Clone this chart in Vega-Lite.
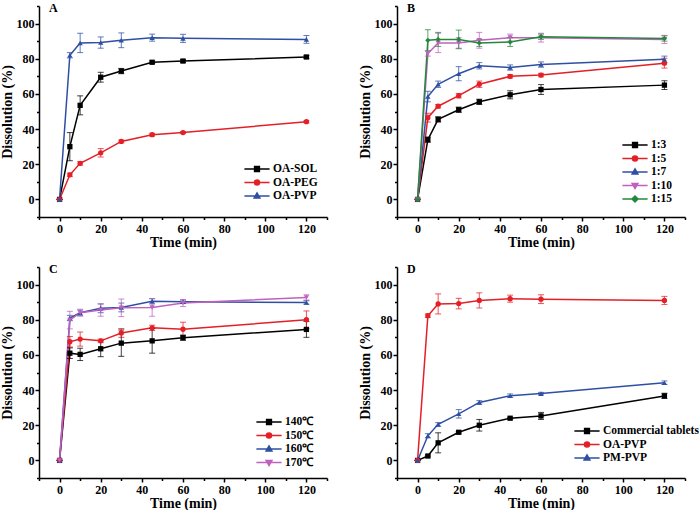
{
"$schema": "https://vega.github.io/schema/vega-lite/v6.json",
"padding": {"left": 0, "top": 2, "right": 3, "bottom": 0},
"bounds": "flush",
"columns": 2,
"spacing": {"row": 50, "column": 70},
"resolve": {"scale": {"color": "independent", "shape": "independent", "fill": "independent", "stroke": "independent"}, "legend": {"color": "independent", "shape": "independent", "fill": "independent", "stroke": "independent"}},
"datasets": {
"A": [
{"s":"OA-SOL","t":0,"v":0,"e":0},{"s":"OA-SOL","t":5,"v":30,"e":8},{"s":"OA-SOL","t":10,"v":53.5,"e":5.4},{"s":"OA-SOL","t":20,"v":69.5,"e":2.8},{"s":"OA-SOL","t":30,"v":73,"e":1.5},{"s":"OA-SOL","t":45,"v":78,"e":0.7},{"s":"OA-SOL","t":60,"v":78.7,"e":0.8},{"s":"OA-SOL","t":120,"v":81,"e":0.8},
{"s":"OA-PEG","t":0,"v":0,"e":0},{"s":"OA-PEG","t":5,"v":14,"e":1},{"s":"OA-PEG","t":10,"v":20.5,"e":1},{"s":"OA-PEG","t":20,"v":26.5,"e":2.4},{"s":"OA-PEG","t":30,"v":33,"e":0.8},{"s":"OA-PEG","t":45,"v":36.8,"e":0.8},{"s":"OA-PEG","t":60,"v":38,"e":0.5},{"s":"OA-PEG","t":120,"v":44.2,"e":0.6},
{"s":"OA-PVP","t":0,"v":0,"e":0},{"s":"OA-PVP","t":5,"v":82,"e":1.5},{"s":"OA-PVP","t":10,"v":89,"e":5.5},{"s":"OA-PVP","t":20,"v":89.2,"e":3.2},{"s":"OA-PVP","t":30,"v":90.5,"e":4.2},{"s":"OA-PVP","t":45,"v":92,"e":2},{"s":"OA-PVP","t":60,"v":91.6,"e":2.3},{"s":"OA-PVP","t":120,"v":91,"e":2.2}
],
"B": [
{"s":"1:3","t":0,"v":0,"e":0},{"s":"1:3","t":5,"v":34,"e":1.5},{"s":"1:3","t":10,"v":45.5,"e":1.5},{"s":"1:3","t":20,"v":51,"e":1.5},{"s":"1:3","t":30,"v":55.5,"e":1.5},{"s":"1:3","t":45,"v":59.5,"e":2.3},{"s":"1:3","t":60,"v":62.5,"e":2.8},{"s":"1:3","t":120,"v":65,"e":2.5},
{"s":"1:5","t":0,"v":0,"e":0},{"s":"1:5","t":5,"v":46.5,"e":2.5},{"s":"1:5","t":10,"v":53,"e":1},{"s":"1:5","t":20,"v":59,"e":1.3},{"s":"1:5","t":30,"v":65.5,"e":1.8},{"s":"1:5","t":45,"v":70,"e":1},{"s":"1:5","t":60,"v":70.7,"e":1},{"s":"1:5","t":120,"v":77.5,"e":2.8},
{"s":"1:7","t":0,"v":0,"e":0},{"s":"1:7","t":5,"v":58.5,"e":3},{"s":"1:7","t":10,"v":65.5,"e":1.8},{"s":"1:7","t":20,"v":71.5,"e":4},{"s":"1:7","t":30,"v":76,"e":1.8},{"s":"1:7","t":45,"v":75,"e":1.5},{"s":"1:7","t":60,"v":76.7,"e":1.5},{"s":"1:7","t":120,"v":79.7,"e":1.8},
{"s":"1:10","t":0,"v":0,"e":0},{"s":"1:10","t":5,"v":83,"e":1.5},{"s":"1:10","t":10,"v":89,"e":5.5},{"s":"1:10","t":20,"v":89,"e":3},{"s":"1:10","t":30,"v":90.5,"e":4.5},{"s":"1:10","t":45,"v":92,"e":2},{"s":"1:10","t":60,"v":92,"e":2.5},{"s":"1:10","t":120,"v":91,"e":2.3},
{"s":"1:15","t":0,"v":0,"e":0},{"s":"1:15","t":5,"v":90.5,"e":6},{"s":"1:15","t":10,"v":91,"e":4},{"s":"1:15","t":20,"v":91,"e":5.3},{"s":"1:15","t":30,"v":89,"e":2},{"s":"1:15","t":45,"v":89.5,"e":2.5},{"s":"1:15","t":60,"v":92.5,"e":1.5},{"s":"1:15","t":120,"v":91.5,"e":1.5}
],
"C": [
{"s":"140℃","t":0,"v":0,"e":0},{"s":"140℃","t":5,"v":61,"e":3},{"s":"140℃","t":10,"v":60.3,"e":3.5},{"s":"140℃","t":20,"v":63.5,"e":4.5},{"s":"140℃","t":30,"v":66.7,"e":7.5},{"s":"140℃","t":45,"v":68,"e":7},{"s":"140℃","t":60,"v":69.8,"e":1.5},{"s":"140℃","t":120,"v":74.5,"e":4.5},
{"s":"150℃","t":0,"v":0,"e":0},{"s":"150℃","t":5,"v":67.5,"e":3},{"s":"150℃","t":10,"v":69,"e":4},{"s":"150℃","t":20,"v":68,"e":1},{"s":"150℃","t":30,"v":72.5,"e":2.5},{"s":"150℃","t":45,"v":75.4,"e":1.5},{"s":"150℃","t":60,"v":74.6,"e":4},{"s":"150℃","t":120,"v":80,"e":5},
{"s":"160℃","t":0,"v":0,"e":0},{"s":"160℃","t":5,"v":81,"e":1.5},{"s":"160℃","t":10,"v":84,"e":1.5},{"s":"160℃","t":20,"v":86.5,"e":2.5},{"s":"160℃","t":30,"v":87,"e":2.5},{"s":"160℃","t":45,"v":90.5,"e":1.5},{"s":"160℃","t":60,"v":90.2,"e":1},{"s":"160℃","t":120,"v":89.8,"e":1},
{"s":"170℃","t":0,"v":0,"e":0},{"s":"170℃","t":5,"v":79.8,"e":5},{"s":"170℃","t":10,"v":84,"e":2},{"s":"170℃","t":20,"v":85.5,"e":3.5},{"s":"170℃","t":30,"v":86.8,"e":5},{"s":"170℃","t":45,"v":87,"e":5},{"s":"170℃","t":60,"v":89.5,"e":2},{"s":"170℃","t":120,"v":92.7,"e":1.5}
],
"D": [
{"s":"Commercial tablets","t":0,"v":0,"e":0},{"s":"Commercial tablets","t":5,"v":2.5,"e":0.5},{"s":"Commercial tablets","t":10,"v":10,"e":5.7},{"s":"Commercial tablets","t":20,"v":16,"e":0.5},{"s":"Commercial tablets","t":30,"v":20,"e":3.3},{"s":"Commercial tablets","t":45,"v":24,"e":0.5},{"s":"Commercial tablets","t":60,"v":25.3,"e":2},{"s":"Commercial tablets","t":120,"v":36.7,"e":1.5},
{"s":"OA-PVP","t":0,"v":0,"e":0},{"s":"OA-PVP","t":5,"v":82.3,"e":1},{"s":"OA-PVP","t":10,"v":89,"e":5.7},{"s":"OA-PVP","t":20,"v":89.2,"e":3},{"s":"OA-PVP","t":30,"v":91,"e":4.3},{"s":"OA-PVP","t":45,"v":92,"e":2},{"s":"OA-PVP","t":60,"v":91.7,"e":2.5},{"s":"OA-PVP","t":120,"v":91,"e":2.3},
{"s":"PM-PVP","t":0,"v":0,"e":0},{"s":"PM-PVP","t":5,"v":14,"e":1.2},{"s":"PM-PVP","t":10,"v":20.5,"e":1},{"s":"PM-PVP","t":20,"v":26.5,"e":2.4},{"s":"PM-PVP","t":30,"v":33,"e":1},{"s":"PM-PVP","t":45,"v":36.8,"e":1},{"s":"PM-PVP","t":60,"v":38,"e":0.7},{"s":"PM-PVP","t":120,"v":44.2,"e":1}
]
},
"concat": [
{
"width": 288, "height": 211,
"title": {"text": "A", "anchor": "start", "frame": "group", "offset": -10, "dx": 10, "fontSize": 12, "font": "Liberation Serif", "fontWeight": "bold", "color": "#000"},
"data": {"name": "A"},
"layer": [
{"mark": {"type": "line", "strokeWidth": 1.5},
 "encoding": {
  "x": {"field": "t", "type": "quantitative", "scale": {"domain": [-10, 130], "nice": false, "zero": false}, "axis": {"orient": "bottom", "values": [0,20,40,60,80,100,120], "title": "Time (min)", "tickSize": 4, "labelPadding": 2, "titlePadding": 1}},
  "y": {"field": "v", "type": "quantitative", "scale": {"domain": [-10, 110], "nice": false, "zero": false}, "axis": {"orient": "left", "values": [0,20,40,60,80,100], "title": "Dissolution (%)", "tickSize": 4, "labelPadding": 1, "titlePadding": 2}},
  "color": {"field": "s", "type": "nominal", "scale": {"domain": ["OA-SOL","OA-PEG","OA-PVP"], "range": ["#000000","#e41f26","#2e4fa3"]}, "legend": null}}},
{"mark": {"type": "errorbar", "ticks": true, "size": 6, "thickness": 1, "opacity": 0.75},
 "encoding": {
  "x": {"field": "t", "type": "quantitative", "axis": null},
  "y": {"field": "v", "type": "quantitative", "axis": null},
  "yError": {"field": "e"},
  "color": {"field": "s", "type": "nominal", "scale": {"domain": ["OA-SOL","OA-PEG","OA-PVP"], "range": ["#000000","#e41f26","#2e4fa3"]}, "legend": null}}},
{"mark": {"type": "point", "filled": true, "size": 28, "opacity": 1},
 "encoding": {
  "x": {"field": "t", "type": "quantitative", "axis": null},
  "y": {"field": "v", "type": "quantitative", "axis": null},
  "color": {"field": "s", "type": "nominal", "scale": {"domain": ["OA-SOL","OA-PEG","OA-PVP"], "range": ["#000000","#e41f26","#2e4fa3"]}, "legend": null},
  "shape": {"field": "s", "type": "nominal", "scale": {"domain": ["OA-SOL","OA-PEG","OA-PVP"], "range": ["square","circle","triangle-up"]}, "legend": null}}},
{"transform": [{"filter": "datum.t > 1000"}],
 "mark": {"type": "point", "strokeWidth": 1.5, "opacity": 1},
 "encoding": {
  "x": {"field": "t", "type": "quantitative", "axis": {"orient": "bottom", "values": [-10,10,30,50,70,90,110,130], "labels": false, "domain": false, "title": null, "tickSize": 2.5}},
  "y": {"field": "v", "type": "quantitative", "axis": {"orient": "left", "values": [-10,10,30,50,70,90,110], "labels": false, "domain": false, "title": null, "tickSize": 2.5}},
  "fill": {"field": "s", "type": "nominal", "scale": {"domain": ["OA-SOL","OA-PEG","OA-PVP"], "range": ["#000000","#e41f26","#2e4fa3"]}, "legend": {"title": null, "orient": "none", "legendX": 211, "legendY": 156}},
  "stroke": {"field": "s", "type": "nominal", "scale": {"domain": ["OA-SOL","OA-PEG","OA-PVP"], "range": ["#000000","#e41f26","#2e4fa3"]}, "legend": {"title": null, "orient": "none", "legendX": 211, "legendY": 156}},
  "shape": {"field": "s", "type": "nominal", "scale": {"domain": ["OA-SOL","OA-PEG","OA-PVP"], "range": ["M-2.1,0H2.1M-0.4,-0.4H0.4V0.4H-0.4Z","M-2.1,0H2.1M0.42,0A0.42,0.42 0 1,1 -0.42,0A0.42,0.42 0 1,1 0.42,0Z","M-2.1,0H2.1M0,-0.5L0.48,0.33H-0.48Z"]}, "legend": {"title": null, "orient": "none", "legendX": 211, "legendY": 156}}}}
],
"resolve": {"scale": {"shape": "independent", "fill": "independent", "stroke": "independent"}, "axis": {"x": "independent", "y": "independent"}}
},
{
"width": 288, "height": 211,
"title": {"text": "B", "anchor": "start", "frame": "group", "offset": -10, "dx": 10, "fontSize": 12, "font": "Liberation Serif", "fontWeight": "bold", "color": "#000"},
"data": {"name": "B"},
"layer": [
{"mark": {"type": "line", "strokeWidth": 1.5},
 "encoding": {
  "x": {"field": "t", "type": "quantitative", "scale": {"domain": [-10, 130], "nice": false, "zero": false}, "axis": {"orient": "bottom", "values": [0,20,40,60,80,100,120], "title": "Time (min)", "tickSize": 4, "labelPadding": 2, "titlePadding": 1}},
  "y": {"field": "v", "type": "quantitative", "scale": {"domain": [-10, 110], "nice": false, "zero": false}, "axis": {"orient": "left", "values": [0,20,40,60,80,100], "title": "Dissolution (%)", "tickSize": 4, "labelPadding": 1, "titlePadding": 2}},
  "color": {"field": "s", "type": "nominal", "scale": {"domain": ["1:3","1:5","1:7","1:10","1:15"], "range": ["#000000","#e41f26","#2e4fa3","#c060c0","#23893a"]}, "legend": null}}},
{"mark": {"type": "errorbar", "ticks": true, "size": 6, "thickness": 1, "opacity": 0.75},
 "encoding": {
  "x": {"field": "t", "type": "quantitative", "axis": null},
  "y": {"field": "v", "type": "quantitative", "axis": null},
  "yError": {"field": "e"},
  "color": {"field": "s", "type": "nominal", "scale": {"domain": ["1:3","1:5","1:7","1:10","1:15"], "range": ["#000000","#e41f26","#2e4fa3","#c060c0","#23893a"]}, "legend": null}}},
{"mark": {"type": "point", "filled": true, "size": 28, "opacity": 1},
 "encoding": {
  "x": {"field": "t", "type": "quantitative", "axis": null},
  "y": {"field": "v", "type": "quantitative", "axis": null},
  "color": {"field": "s", "type": "nominal", "scale": {"domain": ["1:3","1:5","1:7","1:10","1:15"], "range": ["#000000","#e41f26","#2e4fa3","#c060c0","#23893a"]}, "legend": null},
  "shape": {"field": "s", "type": "nominal", "scale": {"domain": ["1:3","1:5","1:7","1:10","1:15"], "range": ["square","circle","triangle-up","triangle-down","diamond"]}, "legend": null}}},
{"transform": [{"filter": "datum.t > 1000"}],
 "mark": {"type": "point", "strokeWidth": 1.5, "opacity": 1},
 "encoding": {
  "x": {"field": "t", "type": "quantitative", "axis": {"orient": "bottom", "values": [-10,10,30,50,70,90,110,130], "labels": false, "domain": false, "title": null, "tickSize": 2.5}},
  "y": {"field": "v", "type": "quantitative", "axis": {"orient": "left", "values": [-10,10,30,50,70,90,110], "labels": false, "domain": false, "title": null, "tickSize": 2.5}},
  "fill": {"field": "s", "type": "nominal", "scale": {"domain": ["1:3","1:5","1:7","1:10","1:15"], "range": ["#000000","#e41f26","#2e4fa3","#c060c0","#23893a"]}, "legend": {"title": null, "orient": "none", "legendX": 231, "legendY": 132}},
  "stroke": {"field": "s", "type": "nominal", "scale": {"domain": ["1:3","1:5","1:7","1:10","1:15"], "range": ["#000000","#e41f26","#2e4fa3","#c060c0","#23893a"]}, "legend": {"title": null, "orient": "none", "legendX": 231, "legendY": 132}},
  "shape": {"field": "s", "type": "nominal", "scale": {"domain": ["1:3","1:5","1:7","1:10","1:15"], "range": ["M-2.1,0H2.1M-0.4,-0.4H0.4V0.4H-0.4Z","M-2.1,0H2.1M0.42,0A0.42,0.42 0 1,1 -0.42,0A0.42,0.42 0 1,1 0.42,0Z","M-2.1,0H2.1M0,-0.5L0.48,0.33H-0.48Z","M-2.1,0H2.1M0,0.5L0.48,-0.33H-0.48Z","M-2.1,0H2.1M0,-0.5L0.5,0L0,0.5L-0.5,0Z"]}, "legend": {"title": null, "orient": "none", "legendX": 231, "legendY": 132}}}}
],
"resolve": {"scale": {"shape": "independent", "fill": "independent", "stroke": "independent"}, "axis": {"x": "independent", "y": "independent"}}
},
{
"width": 288, "height": 211,
"title": {"text": "C", "anchor": "start", "frame": "group", "offset": -10, "dx": 10, "fontSize": 12, "font": "Liberation Serif", "fontWeight": "bold", "color": "#000"},
"data": {"name": "C"},
"layer": [
{"mark": {"type": "line", "strokeWidth": 1.5},
 "encoding": {
  "x": {"field": "t", "type": "quantitative", "scale": {"domain": [-10, 130], "nice": false, "zero": false}, "axis": {"orient": "bottom", "values": [0,20,40,60,80,100,120], "title": "Time (min)", "tickSize": 4, "labelPadding": 2, "titlePadding": 1}},
  "y": {"field": "v", "type": "quantitative", "scale": {"domain": [-10, 110], "nice": false, "zero": false}, "axis": {"orient": "left", "values": [0,20,40,60,80,100], "title": "Dissolution (%)", "tickSize": 4, "labelPadding": 1, "titlePadding": 2}},
  "color": {"field": "s", "type": "nominal", "scale": {"domain": ["140℃","150℃","160℃","170℃"], "range": ["#000000","#e41f26","#2e4fa3","#c060c0"]}, "legend": null}}},
{"mark": {"type": "errorbar", "ticks": true, "size": 6, "thickness": 1, "opacity": 0.75},
 "encoding": {
  "x": {"field": "t", "type": "quantitative", "axis": null},
  "y": {"field": "v", "type": "quantitative", "axis": null},
  "yError": {"field": "e"},
  "color": {"field": "s", "type": "nominal", "scale": {"domain": ["140℃","150℃","160℃","170℃"], "range": ["#000000","#e41f26","#2e4fa3","#c060c0"]}, "legend": null}}},
{"mark": {"type": "point", "filled": true, "size": 28, "opacity": 1},
 "encoding": {
  "x": {"field": "t", "type": "quantitative", "axis": null},
  "y": {"field": "v", "type": "quantitative", "axis": null},
  "color": {"field": "s", "type": "nominal", "scale": {"domain": ["140℃","150℃","160℃","170℃"], "range": ["#000000","#e41f26","#2e4fa3","#c060c0"]}, "legend": null},
  "shape": {"field": "s", "type": "nominal", "scale": {"domain": ["140℃","150℃","160℃","170℃"], "range": ["square","circle","triangle-up","triangle-down"]}, "legend": null}}},
{"transform": [{"filter": "datum.t > 1000"}],
 "mark": {"type": "point", "strokeWidth": 1.5, "opacity": 1},
 "encoding": {
  "x": {"field": "t", "type": "quantitative", "axis": {"orient": "bottom", "values": [-10,10,30,50,70,90,110,130], "labels": false, "domain": false, "title": null, "tickSize": 2.5}},
  "y": {"field": "v", "type": "quantitative", "axis": {"orient": "left", "values": [-10,10,30,50,70,90,110], "labels": false, "domain": false, "title": null, "tickSize": 2.5}},
  "fill": {"field": "s", "type": "nominal", "scale": {"domain": ["140℃","150℃","160℃","170℃"], "range": ["#000000","#e41f26","#2e4fa3","#c060c0"]}, "legend": {"title": null, "orient": "none", "legendX": 223, "legendY": 148}},
  "stroke": {"field": "s", "type": "nominal", "scale": {"domain": ["140℃","150℃","160℃","170℃"], "range": ["#000000","#e41f26","#2e4fa3","#c060c0"]}, "legend": {"title": null, "orient": "none", "legendX": 223, "legendY": 148}},
  "shape": {"field": "s", "type": "nominal", "scale": {"domain": ["140℃","150℃","160℃","170℃"], "range": ["M-2.1,0H2.1M-0.4,-0.4H0.4V0.4H-0.4Z","M-2.1,0H2.1M0.42,0A0.42,0.42 0 1,1 -0.42,0A0.42,0.42 0 1,1 0.42,0Z","M-2.1,0H2.1M0,-0.5L0.48,0.33H-0.48Z","M-2.1,0H2.1M0,0.5L0.48,-0.33H-0.48Z"]}, "legend": {"title": null, "orient": "none", "legendX": 223, "legendY": 148}}}}
],
"resolve": {"scale": {"shape": "independent", "fill": "independent", "stroke": "independent"}, "axis": {"x": "independent", "y": "independent"}}
},
{
"width": 288, "height": 211,
"title": {"text": "D", "anchor": "start", "frame": "group", "offset": -10, "dx": 10, "fontSize": 12, "font": "Liberation Serif", "fontWeight": "bold", "color": "#000"},
"data": {"name": "D"},
"layer": [
{"mark": {"type": "line", "strokeWidth": 1.5},
 "encoding": {
  "x": {"field": "t", "type": "quantitative", "scale": {"domain": [-10, 130], "nice": false, "zero": false}, "axis": {"orient": "bottom", "values": [0,20,40,60,80,100,120], "title": "Time (min)", "tickSize": 4, "labelPadding": 2, "titlePadding": 1}},
  "y": {"field": "v", "type": "quantitative", "scale": {"domain": [-10, 110], "nice": false, "zero": false}, "axis": {"orient": "left", "values": [0,20,40,60,80,100], "title": "Dissolution (%)", "tickSize": 4, "labelPadding": 1, "titlePadding": 2}},
  "color": {"field": "s", "type": "nominal", "scale": {"domain": ["Commercial tablets","OA-PVP","PM-PVP"], "range": ["#000000","#e41f26","#2e4fa3"]}, "legend": null}}},
{"mark": {"type": "errorbar", "ticks": true, "size": 6, "thickness": 1, "opacity": 0.75},
 "encoding": {
  "x": {"field": "t", "type": "quantitative", "axis": null},
  "y": {"field": "v", "type": "quantitative", "axis": null},
  "yError": {"field": "e"},
  "color": {"field": "s", "type": "nominal", "scale": {"domain": ["Commercial tablets","OA-PVP","PM-PVP"], "range": ["#000000","#e41f26","#2e4fa3"]}, "legend": null}}},
{"mark": {"type": "point", "filled": true, "size": 28, "opacity": 1},
 "encoding": {
  "x": {"field": "t", "type": "quantitative", "axis": null},
  "y": {"field": "v", "type": "quantitative", "axis": null},
  "color": {"field": "s", "type": "nominal", "scale": {"domain": ["Commercial tablets","OA-PVP","PM-PVP"], "range": ["#000000","#e41f26","#2e4fa3"]}, "legend": null},
  "shape": {"field": "s", "type": "nominal", "scale": {"domain": ["Commercial tablets","OA-PVP","PM-PVP"], "range": ["square","circle","triangle-up"]}, "legend": null}}},
{"transform": [{"filter": "datum.t > 1000"}],
 "mark": {"type": "point", "strokeWidth": 1.5, "opacity": 1},
 "encoding": {
  "x": {"field": "t", "type": "quantitative", "axis": {"orient": "bottom", "values": [-10,10,30,50,70,90,110,130], "labels": false, "domain": false, "title": null, "tickSize": 2.5}},
  "y": {"field": "v", "type": "quantitative", "axis": {"orient": "left", "values": [-10,10,30,50,70,90,110], "labels": false, "domain": false, "title": null, "tickSize": 2.5}},
  "fill": {"field": "s", "type": "nominal", "scale": {"domain": ["Commercial tablets","OA-PVP","PM-PVP"], "range": ["#000000","#e41f26","#2e4fa3"]}, "legend": {"title": null, "orient": "none", "legendX": 183, "legendY": 157}},
  "stroke": {"field": "s", "type": "nominal", "scale": {"domain": ["Commercial tablets","OA-PVP","PM-PVP"], "range": ["#000000","#e41f26","#2e4fa3"]}, "legend": {"title": null, "orient": "none", "legendX": 183, "legendY": 157}},
  "shape": {"field": "s", "type": "nominal", "scale": {"domain": ["Commercial tablets","OA-PVP","PM-PVP"], "range": ["M-2.1,0H2.1M-0.4,-0.4H0.4V0.4H-0.4Z","M-2.1,0H2.1M0.42,0A0.42,0.42 0 1,1 -0.42,0A0.42,0.42 0 1,1 0.42,0Z","M-2.1,0H2.1M0,-0.5L0.48,0.33H-0.48Z"]}, "legend": {"title": null, "orient": "none", "legendX": 183, "legendY": 157}}}}
],
"resolve": {"scale": {"shape": "independent", "fill": "independent", "stroke": "independent"}, "axis": {"x": "independent", "y": "independent"}}
}
],
"config": {
"view": {"stroke": null},
"font": "Liberation Serif",
"axis": {"grid": false, "domainColor": "#000", "tickColor": "#000", "labelColor": "#000", "titleColor": "#000", "domainWidth": 1.5, "tickWidth": 1.5, "labelFont": "Liberation Serif", "labelFontSize": 12, "labelFontWeight": "bold", "titleFont": "Liberation Serif", "titleFontSize": 14, "titleFontWeight": "bold"},
"legend": {"symbolSize": 144, "symbolStrokeWidth": 1.5, "symbolOpacity": 1, "labelFont": "Liberation Serif", "labelFontSize": 11.5, "labelFontWeight": "bold", "labelColor": "#000", "rowPadding": 0.5, "labelOffset": 9, "padding": 0}
}
}
